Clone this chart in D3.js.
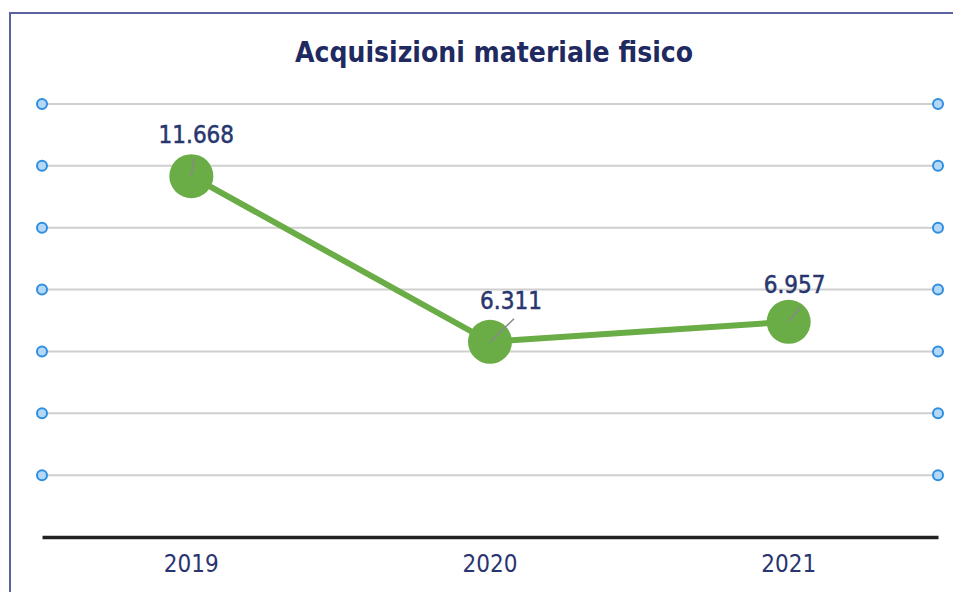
<!DOCTYPE html>
<meta charset="utf-8">
<style>
body { margin: 0; background: #fff; }
text { font-family: "DejaVu Sans Condensed", "DejaVu Sans", sans-serif; }
</style>
<svg width="953" height="592"></svg>
<script src="https://d3js.org/d3.v7.min.js"></script>
<script>

var years = ["2019", "2020", "2021"];
var values = [11.668, 6.311, 6.957];
var labels = ["11.668", "6.311", "6.957"];
var gridTicks = [2, 4, 6, 8, 10, 12, 14];

var svg = d3.select("svg");

var x = d3.scaleBand().domain(years).range([42, 938]);
var y = d3.scaleLinear().domain([0, 14]).range([537, 104]);
var cx = function(d) { return x(d) + x.bandwidth() / 2; };

// frame
svg.append("path")
    .attr("d", "M10,592V13H953")
    .attr("fill", "none")
    .attr("stroke", "#5a62a0")
    .attr("stroke-width", 2);

svg.append("text")
    .attr("x", 494)
    .attr("y", 62)
    .attr("text-anchor", "middle")
    .attr("font-size", 28)
    .attr("font-weight", "bold")
    .attr("fill", "#1f2a60")
    .text("Acquisizioni materiale fisico");

// gridlines
var grid = svg.append("g");
grid.selectAll("line")
    .data(gridTicks)
    .enter().append("line")
      .attr("x1", 42).attr("x2", 938)
      .attr("y1", function(d) { return y(d); })
      .attr("y2", function(d) { return y(d); })
      .attr("stroke", "#cfcfcf")
      .attr("stroke-width", 2);

[42, 938].forEach(function(px) {
  grid.append("g").selectAll("circle")
      .data(gridTicks)
      .enter().append("circle")
        .attr("cx", px)
        .attr("cy", function(d) { return y(d); })
        .attr("r", 5)
        .attr("fill", "#b4d8f8")
        .attr("stroke", "#2f8ee0")
        .attr("stroke-width", 2);
});

// x axis
var xAxis = svg.append("g")
    .attr("transform", "translate(0," + y(0) + ")")
    .call(d3.axisBottom(x).tickSize(0).tickPadding(18));
xAxis.select(".domain")
    .attr("stroke", "#222")
    .attr("stroke-width", 3.5);
xAxis.selectAll("text")
    .attr("font-size", 24)
    .attr("fill", "#2a3470")
    .style("font-family", "'DejaVu Sans Condensed', sans-serif");

// line
var pts = years.map(function(d, i) { return { year: d, value: values[i], label: labels[i] }; });

svg.append("path")
    .datum(pts)
    .attr("fill", "none")
    .attr("stroke", "#6aac45")
    .attr("stroke-width", 6)
    .attr("d", d3.line()
        .x(function(d) { return cx(d.year); })
        .y(function(d) { return y(d.value); }));

svg.append("g").selectAll("circle")
    .data(pts)
    .enter().append("circle")
      .attr("cx", function(d) { return cx(d.year); })
      .attr("cy", function(d) { return y(d.value); })
      .attr("r", 22)
      .attr("fill", "#6aac45");

// label leader lines + labels
var offs = [[3, -18, 5, -33], [24, -23, 21, -33], [12, -15, 6, -29]];

svg.append("g").selectAll("line")
    .data(pts)
    .enter().append("line")
      .attr("x1", function(d) { return cx(d.year); })
      .attr("y1", function(d) { return y(d.value); })
      .attr("x2", function(d, i) { return cx(d.year) + offs[i][0]; })
      .attr("y2", function(d, i) { return y(d.value) + offs[i][1]; })
      .attr("stroke", "#8a8a8a")
      .attr("stroke-width", 1.5);

svg.append("g").selectAll("text")
    .data(pts)
    .enter().append("text")
      .attr("x", function(d, i) { return cx(d.year) + offs[i][2]; })
      .attr("y", function(d, i) { return y(d.value) + offs[i][3]; })
      .attr("text-anchor", "middle")
      .attr("font-size", 24)
      .attr("fill", "#28366e")
      .attr("stroke", "#28366e")
      .attr("stroke-width", 0.5)
      .text(function(d) { return d.label; });

</script>
